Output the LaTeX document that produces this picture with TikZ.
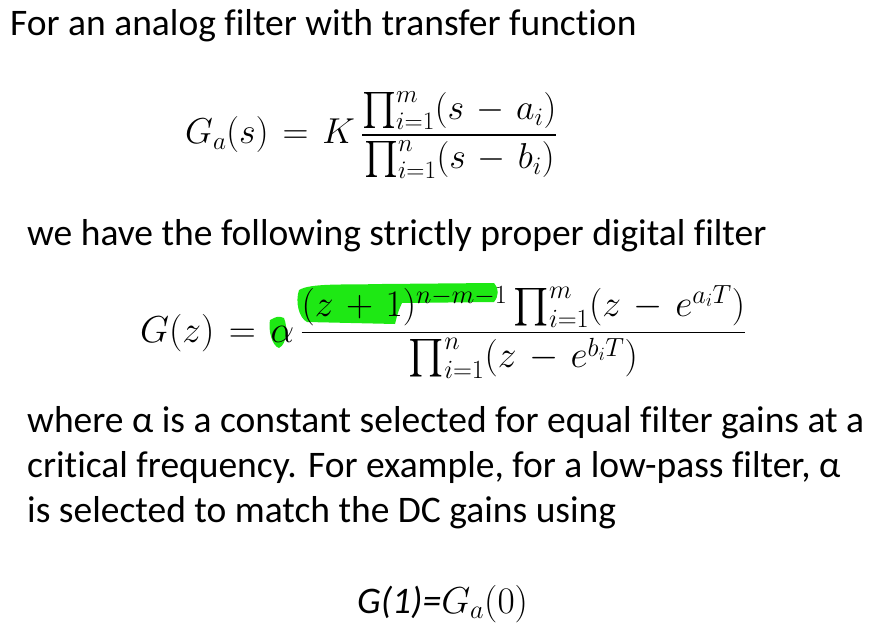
\RequirePackage{fix-cm}
\documentclass[tikz,border=0pt]{standalone}
\usepackage{amsmath}
\usepackage{amssymb}
\usepackage{fontspec}
\setmainfont{Carlito}[Ligatures=NoCommon]
\usepackage{tikz}
\definecolor{marker}{RGB}{30,232,20}
\thickmuskip=7mu plus 5mu
\medmuskip=6mu plus 2mu

\begin{document}
\begin{tikzpicture}
[x=1pt,y=-1pt]
\tikzstyle{text line}=[anchor=base west,inner sep=0,font=\fontsize{37.5}{45}\selectfont]
\tikzstyle{eq line}=[anchor=base west,inner sep=0]
\useasboundingbox(0,0)rectangle(870,639);

% highlighter strokes
\fill[marker](270,320)..controls(268,330)and(272,346)..(279,348)
  ..controls(287,344)and(288,328)..(284,318)..controls(278,316)..(270,320)--cycle;
\fill[marker](299,290)..controls(295,302)and(299,318)..(307,322)
  --(395,324)..controls(398,312)..(402,303)--(494,302)
  ..controls(499,296)and(499,288)..(494,283)--(382,284)
  ..controls(342,285)and(311,283)..(299,290)--cycle;

\node(1)[text line]at(10,36){For an analog filter with transfer function};
\node(2)[eq line,font=\fontsize{36}{42}\selectfont]at(185,144)
  {$\displaystyle G_a(s)=K\,\frac{\prod\nolimits_{i=1}^{m}(s-a_i)}{\prod\nolimits_{i=1}^{n}(s-b_i)}$};
\node(3)[text line]at(27,245){we have the following strictly proper digital filter};
\node(4)[eq line,font=\fontsize{37.5}{44}\selectfont]at(140,342)
  {$\displaystyle G(z)=\alpha\,\frac{(z+1)^{n-m-1}\prod\nolimits_{i=1}^{m}(z-e^{a_iT})}{\prod\nolimits_{i=1}^{n}(z-e^{b_iT})}$};
\node(5)[text line]at(27,432){where α is a constant selected for equal filter gains at a};
\node(6)[text line]at(27,477){critical frequency. For example, for a low-pass filter, α};
\node(7)[text line]at(27,522){is selected to match the DC gains using};
\node(8)[text line]at(357,613){\itshape G(1)=\fontsize{37.5}{44}\selectfont$G_a(0)$};
\end{tikzpicture}
\end{document}
